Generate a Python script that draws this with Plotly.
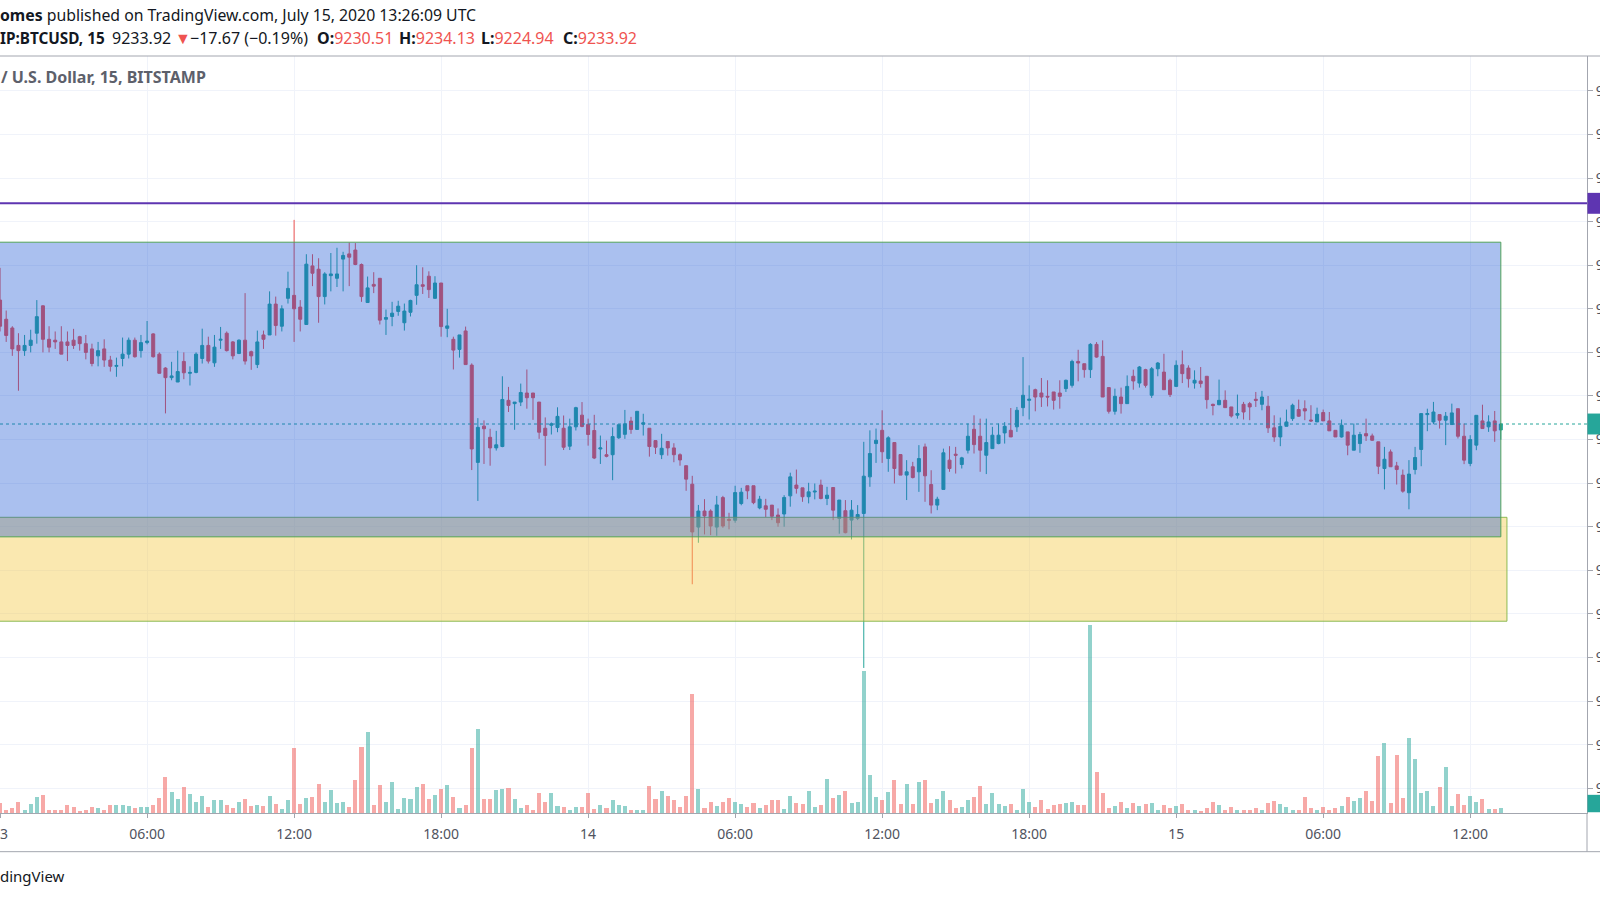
import plotly.graph_objects as go
import pandas as pd

# ---------------- data ----------------
start_time = "2020-07-13 00:00"
n_bars = 246
times = pd.date_range(start_time, periods=n_bars, freq="15min")

opens = [9305, 9294, 9289, 9279, 9276, 9279, 9286, 9301.7, 9282.5, 9282, 9281, 9281, 9282, 9284, 9280, 9277, 9273, 9277, 9270.6, 9267,
         9271.5, 9274, 9282, 9276, 9280.6, 9285.6, 9274, 9266, 9260.5, 9258, 9269.8, 9263, 9263.5, 9271.5, 9279, 9269, 9282, 9286, 9281, 9274.4,
         9282, 9275.4, 9268, 9285, 9285, 9302.7, 9290, 9306, 9307.7, 9301, 9291, 9324.6, 9322.7, 9307, 9319, 9317.5, 9328.5, 9331.5, 9333.7, 9325.4,
         9303.6, 9314, 9317.5, 9294, 9295.6, 9298.5, 9292, 9298, 9307.7, 9313.8, 9318.7, 9306, 9314.8, 9288.8, 9282.5, 9276.7, 9287.3, 9267.7, 9211.9, 9232.7,
         9226.3, 9220.2, 9221, 9247.5, 9245.6, 9246.5, 9251.7, 9251.7, 9246.5, 9231.5, 9233.2, 9231.9, 9231.5, 9221.2, 9232.3, 9239, 9233.7, 9230.2, 9219.6, 9216.3,
         9216.3, 9226, 9228, 9235.6, 9230.8, 9233.8, 9231.5, 9224.4, 9216.3, 9223.9, 9220.2, 9216.3, 9210, 9199.4, 9174.8, 9184, 9184, 9174.8, 9191.7, 9179.2,
         9178.7, 9188.3, 9198.5, 9198.5, 9185.8, 9187, 9187.4, 9181.7, 9182.3, 9192.7, 9198.9, 9197.3, 9192.2, 9194.9, 9198.9, 9191.2, 9197.5, 9179.8, 9184.2, 9178.8,
         9179.8, 9182.6, 9203.6, 9222.7, 9230.3, 9214.1, 9223.3, 9216.4, 9204.6, 9209.4, 9206.5, 9220.8, 9199.2, 9187.4, 9196.4, 9213.2, 9216.6, 9210.7, 9218.9, 9230.9,
         9226.9, 9216, 9219.8, 9222.7, 9228.8, 9230.3, 9232.3, 9243.3, 9247.5, 9253.6, 9251.7, 9249.8, 9252.3, 9251.7, 9254.2, 9256.1, 9269.8, 9268.5, 9265.1, 9279.6,
         9272.7, 9254.8, 9241.2, 9249.4, 9245.6, 9261.3, 9257.4, 9265.1, 9250.4, 9265.6, 9263.7, 9259, 9255.5, 9267.9, 9266, 9257.4, 9258.6, 9261.3, 9245.2, 9245,
         9247.5, 9243.7, 9239, 9245.2, 9245.6, 9248.1, 9245.2, 9244.1, 9231.7, 9226.5, 9232.6, 9237, 9242.2, 9242.7, 9236.2, 9235.1, 9240.5, 9235.7, 9230.3, 9226.5,
         9229.4, 9218.9, 9222.7, 9228.4, 9227.1, 9223.7, 9208.4, 9217.9, 9209.9, 9204.6, 9194.5, 9207.8, 9219.3, 9239.3, 9235.1, 9239.3, 9236.1, 9233.6, 9242.7, 9226.9,
         9211.3, 9221.8, 9235.7, 9232.3, 9235.7, 9230.51]
highs = [9323.5, 9299, 9290, 9286, 9285, 9288, 9305, 9302, 9290, 9287, 9290, 9287, 9288.5, 9284.5, 9285, 9280, 9281, 9282.5, 9273, 9272,
         9283.5, 9283.5, 9283.5, 9285, 9293, 9286, 9275, 9266.5, 9269.6, 9276, 9275, 9267, 9275, 9288.6, 9284, 9285, 9289.6, 9287, 9281.5, 9282.5,
         9309, 9276, 9287.5, 9287.5, 9310, 9307, 9302, 9321.3, 9351, 9305, 9331.3, 9331.3, 9329, 9321, 9332, 9335, 9332.7, 9338, 9337.7, 9326,
         9318.5, 9321, 9317.5, 9299.6, 9304, 9304.6, 9303, 9305.2, 9325, 9323.8, 9321.5, 9318.7, 9314.8, 9300, 9284, 9285, 9289.8, 9268.7, 9237.3, 9236,
         9231.2, 9230, 9261.3, 9255.2, 9246.5, 9257.1, 9265.2, 9251.7, 9246.5, 9237.7, 9234.8, 9243.5, 9238.8, 9237, 9243.8, 9246.5, 9237, 9239.2, 9227.3, 9224.4,
         9232, 9233.5, 9242, 9238, 9241.2, 9239.8, 9231.5, 9224.4, 9228.3, 9223.9, 9222.9, 9217.1, 9210, 9204.2, 9187.5, 9190.8, 9185, 9192.7, 9192.7, 9183,
         9198.5, 9197.3, 9198.5, 9198.5, 9192.7, 9191, 9187.4, 9185.5, 9193.1, 9206, 9207.8, 9197.3, 9200.2, 9199.8, 9202, 9197.9, 9197.5, 9190.3, 9190.3, 9190.3,
         9187.4, 9223.7, 9230.3, 9231.3, 9241.8, 9226.9, 9223.3, 9216.4, 9213.2, 9212.2, 9221.8, 9222.7, 9207.4, 9192.2, 9219.8, 9221.2, 9220.8, 9215.1, 9234.2, 9238.9,
         9237, 9237, 9232.3, 9234.2, 9235, 9243.1, 9243.7, 9272.3, 9256.1, 9254.2, 9260.3, 9259, 9252.3, 9259, 9259.4, 9270.8, 9276.5, 9268.5, 9280.3, 9280.9,
         9281.9, 9254.8, 9254.2, 9254.8, 9261.8, 9265.1, 9267.2, 9265.6, 9266.6, 9269.5, 9274.2, 9259.9, 9270.4, 9276.1, 9267.6, 9264.7, 9266.6, 9261.3, 9245.6, 9259.4,
         9253.2, 9243.7, 9250.8, 9246.6, 9246.6, 9252.3, 9252.9, 9250, 9238.9, 9237.6, 9242.2, 9245.6, 9247.9, 9247.5, 9244.7, 9243.3, 9242.2, 9240.8, 9230.3, 9236.5,
         9229.4, 9234.2, 9229.4, 9237, 9228.4, 9223.7, 9220.8, 9219.3, 9212.2, 9207.8, 9213.2, 9220.8, 9239.9, 9242.7, 9246.6, 9239.3, 9240.8, 9245.6, 9242.7, 9234.2,
         9227.5, 9238.9, 9245, 9238.9, 9241.4, 9234.13]
lows = [9287, 9281, 9273, 9253, 9273, 9275, 9280, 9275, 9275, 9277, 9274, 9270, 9277, 9276, 9271, 9267, 9267, 9266.7, 9264, 9261,
        9267, 9271.5, 9272, 9272, 9279.6, 9272, 9263, 9240, 9259, 9258, 9259.6, 9256, 9263, 9268.6, 9268.6, 9266.7, 9277, 9275.5, 9271, 9274,
        9268, 9265, 9266, 9277, 9285, 9284.6, 9287, 9303, 9281, 9287, 9291, 9313, 9292, 9302.5, 9310, 9312.5, 9310, 9313, 9325, 9304,
        9303.6, 9309, 9291, 9285, 9290, 9296, 9287.5, 9295.6, 9302.3, 9308.5, 9306.2, 9305.8, 9284, 9283.7, 9265.2, 9272, 9268, 9207.5, 9189.8, 9211,
        9210, 9218.7, 9220.6, 9240.8, 9230.6, 9244.2, 9242.7, 9236.3, 9225.4, 9210, 9227.9, 9229.2, 9219, 9219, 9230.2, 9232, 9221.5, 9213.8, 9211, 9214.8,
        9201.7, 9225.4, 9225.4, 9228.3, 9230.8, 9227.3, 9215.2, 9216.7, 9213.8, 9215.8, 9212, 9210, 9195.6, 9142, 9165.8, 9170.6, 9170.2, 9169.8, 9174.4, 9173.5,
        9177.3, 9187.3, 9190.8, 9187.9, 9185, 9180.5, 9178.8, 9175, 9175, 9186.5, 9194, 9189.3, 9188.4, 9190.7, 9190.7, 9187.4, 9178.8, 9171, 9171.2, 9167.7,
        9178.8, 9094, 9197.9, 9211.6, 9211.6, 9206.5, 9199.8, 9204.6, 9190.3, 9202.7, 9195, 9189.3, 9182.6, 9184.5, 9196.4, 9206.5, 9205.5, 9208.4, 9217, 9217,
        9206.5, 9205.2, 9219.8, 9222.3, 9222.7, 9226.5, 9229.4, 9238.4, 9236.5, 9241.2, 9243.7, 9244, 9242.2, 9242.7, 9252.3, 9254.8, 9258.4, 9260.5, 9260.3, 9271.9,
        9249.4, 9239.9, 9239.3, 9239.9, 9245.6, 9253.6, 9254.8, 9254.8, 9248.9, 9261.3, 9253.6, 9249.4, 9255.1, 9257.4, 9254.8, 9254.2, 9254.8, 9242.7, 9238.9, 9244.7,
        9243.3, 9237.6, 9237, 9236.5, 9236.1, 9243.7, 9241.8, 9228.8, 9223.7, 9221.2, 9232.6, 9235.7, 9238, 9236.1, 9235.1, 9235.1, 9235.7, 9230, 9226.5, 9226.1,
        9216, 9218.9, 9217.4, 9224.2, 9224.2, 9205.2, 9196.4, 9209.4, 9199.2, 9194.5, 9185, 9205, 9209.7, 9229.8, 9233.8, 9231.3, 9221.8, 9233.6, 9225.6, 9210.9,
        9209.7, 9218.9, 9231.3, 9229.4, 9223.7, 9224.94]
closes = [9290, 9284.7, 9277, 9276, 9279, 9282, 9295.5, 9282.5, 9278, 9281, 9274, 9279, 9279, 9280, 9275, 9268.6, 9276, 9270.6, 9267, 9267.5,
          9274, 9282, 9272.5, 9280.6, 9281.5, 9272.5, 9263, 9260.5, 9261.5, 9264, 9263.3, 9263.5, 9274, 9279, 9270, 9278, 9282.5, 9276, 9273, 9282,
          9270, 9273, 9281, 9282.5, 9302.7, 9290.4, 9300, 9311.7, 9300, 9294, 9325.6, 9320.4, 9307, 9320, 9320, 9320, 9330.6, 9329.6, 9325.4, 9307,
          9312, 9313, 9293.5, 9295, 9297.5, 9301.5, 9298.7, 9304.8, 9313.8, 9312.9, 9311, 9314.8, 9289.8, 9290.2, 9276.3, 9285, 9268, 9219.6, 9232, 9231.2,
          9220.2, 9222, 9248, 9244.6, 9246.5, 9252, 9249, 9249, 9229.2, 9227.3, 9234, 9238.3, 9220.6, 9232.3, 9243.3, 9232.5, 9227.9, 9214.4, 9220.2, 9215.4,
          9226.7, 9233.5, 9234, 9230.8, 9241.2, 9234.6, 9221, 9220.6, 9220, 9220.2, 9216.3, 9213.3, 9202.3, 9172, 9184, 9181.2, 9175.4, 9187.5, 9175.4, 9178.7,
          9194.6, 9194.8, 9195.6, 9188.8, 9190.8, 9185, 9181, 9177.3, 9191.8, 9203.6, 9197, 9192.2, 9195, 9195.4, 9191.2, 9193.1, 9184.5, 9190.3, 9171.6, 9184.5,
          9182, 9204, 9217, 9224.6, 9218, 9226, 9208.4, 9204.6, 9206.5, 9203.2, 9214.1, 9204.2, 9187.4, 9190.8, 9217.4, 9208.4, 9216, 9214.5, 9226.9, 9222.1,
          9218.9, 9223.3, 9227.5, 9227.5, 9232.6, 9226.5, 9241.8, 9250.4, 9248.1, 9249.4, 9249.4, 9249.4, 9247.5, 9249.8, 9259, 9269.8, 9268.9, 9265.1, 9279.6, 9272.3,
          9249.4, 9241.2, 9249.8, 9245.6, 9255.5, 9258.6, 9266.6, 9256.1, 9265.6, 9268.9, 9253.6, 9250.8, 9267.6, 9262.8, 9259.9, 9259, 9257.1, 9247.9, 9244.5, 9247.5,
          9243.3, 9238.5, 9239.9, 9240.8, 9243.7, 9247.5, 9249.4, 9231.7, 9226.5, 9232.6, 9235.1, 9244.7, 9238.4, 9241.4, 9235.7, 9239.5, 9235.7, 9230, 9226.5, 9233.2,
          9221.8, 9227.5, 9227.9, 9227.1, 9224.6, 9209.7, 9213.7, 9209.4, 9207.8, 9195.4, 9205.2, 9214.7, 9239.9, 9239.9, 9240.8, 9236.1, 9238.4, 9240.3, 9226.9, 9213.2,
          9225, 9238.9, 9231.3, 9235.1, 9230, 9233.92]
volumes = [30, 10, 14, 32, 8, 26, 47, 54, 10, 8, 8, 24, 19, 6, 10, 18, 14, 9, 24, 24,
           24, 20, 14, 18, 18, 25, 44, 109, 62, 42, 77, 57, 34, 50, 17, 38, 38, 24, 16, 32,
           42, 22, 24, 20, 50, 28, 12, 39, 195, 26, 44, 48, 87, 34, 69, 30, 32, 19, 100, 199,
           242, 24, 84, 32, 92, 12, 46, 42, 77, 88, 42, 53, 73, 84, 48, 14, 25, 196, 253, 42,
           43, 69, 73, 75, 42, 16, 25, 10, 60, 34, 59, 20, 18, 10, 18, 18, 60, 12, 24, 14,
           39, 23, 22, 10, 8, 8, 80, 42, 67, 51, 40, 18, 51, 358, 71, 14, 34, 22, 32, 44,
           32, 28, 18, 30, 14, 24, 40, 38, 13, 52, 30, 28, 67, 18, 23, 103, 46, 55, 65, 30,
           34, 425, 114, 49, 38, 63, 99, 26, 88, 28, 92, 99, 30, 42, 65, 38, 14, 18, 40, 49,
           81, 28, 59, 26, 20, 28, 10, 71, 34, 18, 38, 12, 24, 26, 30, 34, 24, 24, 565, 124,
           61, 15, 20, 34, 16, 30, 20, 28, 30, 8, 24, 14, 20, 28, 8, 8, 6, 14, 34, 24,
           8, 18, 10, 10, 10, 16, 8, 30, 36, 26, 18, 10, 10, 48, 14, 10, 18, 10, 14, 22,
           48, 36, 44, 67, 36, 172, 210, 30, 174, 44, 224, 162, 59, 67, 20, 77, 138, 22, 57, 24,
           51, 32, 42, 12, 12, 16]

tick_times = ["2020-07-13 00:00", "2020-07-13 06:00", "2020-07-13 12:00", "2020-07-13 18:00",
              "2020-07-14 00:00", "2020-07-14 06:00", "2020-07-14 12:00", "2020-07-14 18:00",
              "2020-07-15 00:00", "2020-07-15 06:00", "2020-07-15 12:00"]
tick_labels = ["13", "06:00", "12:00", "18:00", "14", "06:00", "12:00", "18:00", "15", "06:00", "12:00"]
price_ticks = [9025 + 25 * k for k in range(17)]

last_price = 9233.92
resistance_line = 9360.5
blue_zone = (9169.2, 9338.2, "2020-07-15 13:15")
yellow_zone = (9120.8, 9180.4, "2020-07-15 13:30")

# ---------------- styling ----------------
UP = "#26a69a"
DOWN = "#ef5350"
GRID = "#f0f3fa"
AXIS = "#a3a6af"
FONT = "Noto Sans"
PLOT_W = 1587.0

vol_colors = ["rgba(38,166,154,0.5)" if c >= o else "rgba(239,83,80,0.5)"
              for o, c in zip(opens, closes)]

fig = go.Figure()
fig.add_trace(go.Bar(x=times, y=volumes, yaxis="y2", marker_color=vol_colors,
                     marker_line_width=0, width=0.66 * 900000, showlegend=False,
                     hoverinfo="skip"))
fig.add_trace(go.Candlestick(x=times, open=opens, high=highs, low=lows, close=closes,
                             increasing=dict(line=dict(color=UP, width=1), fillcolor=UP),
                             decreasing=dict(line=dict(color=DOWN, width=1), fillcolor=DOWN),
                             showlegend=False, hoverinfo="skip"))

shapes = [
    dict(type="line", xref="paper", x0=0, x1=1, yref="y", y0=last_price, y1=last_price,
         line=dict(color=UP, width=1, dash="dot")),
    dict(type="rect", xref="x", x0="2020-07-12 18:00", x1=yellow_zone[2], yref="y",
         y0=yellow_zone[0], y1=yellow_zone[1], fillcolor="rgba(245,205,80,0.45)",
         line=dict(color="rgba(130,180,70,0.9)", width=1)),
    dict(type="rect", xref="x", x0="2020-07-12 18:00", x1=blue_zone[2], yref="y",
         y0=blue_zone[0], y1=blue_zone[1], fillcolor="rgba(20,80,210,0.36)",
         line=dict(color="rgba(76,160,80,0.95)", width=1)),
    dict(type="line", xref="paper", x0=0, x1=1, yref="y", y0=resistance_line, y1=resistance_line,
         line=dict(color="#5e35b1", width=2)),
    # pane frame lines
    dict(type="line", xref="paper", x0=0, x1=1.01, yref="paper", y0=1, y1=1,
         line=dict(color=AXIS, width=1)),
    dict(type="line", xref="paper", x0=0, x1=1.01, yref="paper", y0=-0.0511, y1=-0.0511,
         line=dict(color=AXIS, width=1)),
    dict(type="line", xref="paper", x0=1, x1=1, yref="paper", y0=-0.0511, y1=0,
         line=dict(color=AXIS, width=1)),
    # price-axis label boxes (cut off at the right border)
    dict(type="rect", xref="paper", x0=1.0003, x1=1.01, yref="y",
         y0=resistance_line - 6, y1=resistance_line + 6, fillcolor="#5e35b1", line_width=0),
    dict(type="rect", xref="paper", x0=1.0003, x1=1.01, yref="y",
         y0=last_price - 6, y1=last_price + 6, fillcolor=UP, line_width=0),
    dict(type="rect", xref="paper", x0=1.0003, x1=1.01, yref="paper",
         y0=0.001, y1=0.024, fillcolor=UP, line_width=0),
]


def red(s):
    return "<span style='color:%s'>%s</span>" % (DOWN, s)


# header line 2, split in groups placed at their pixel positions
header2_parts = [
    (0, "<b>IP:BTCUSD, 15</b>", 15.3),
    (112, "9233.92", 16),
    (175, red("▼"), 16),
    (190, "−17.67 (−0.19%)", 16),
    (317, "<b>O:</b>" + red("9230.51"), 16),
    (399, "<b>H:</b>" + red("9234.13"), 16),
    (481, "<b>L:</b>" + red("9224.94"), 16),
    (563, "<b>C:</b>" + red("9233.92"), 16),
]

annotations = [
    dict(xref="paper", yref="paper", x=0, y=1.0539, xanchor="left", yanchor="middle", xshift=-2,
         text="<b>omes</b> published on TradingView.com, July 15, 2020 13:26:09 UTC",
         showarrow=False, font=dict(family=FONT, size=15.8, color="#131722")),
    dict(xref="paper", yref="paper", x=0, y=0.9717, xanchor="left", yanchor="middle", xshift=-1,
         text="<b>/ U.S. Dollar, 15, BITSTAMP</b>", showarrow=False,
         font=dict(family=FONT, size=16, color="#5d606b")),
    dict(xref="paper", yref="paper", x=0, y=-0.0828, xanchor="left", yanchor="middle", xshift=-2,
         text="dingView", showarrow=False, font=dict(family=FONT, size=15, color="#131722")),
]
for px, txt, fs in header2_parts:
    annotations.append(dict(xref="paper", yref="paper", x=px / PLOT_W, y=1.0239,
                            xanchor="left", yanchor="middle", xshift=-2, text=txt,
                            showarrow=False, font=dict(family=FONT, size=fs, color="#131722")))

fig.update_layout(
    width=1600, height=900,
    margin=dict(l=0, r=13, t=56, b=87),
    paper_bgcolor="white", plot_bgcolor="white",
    shapes=shapes, annotations=annotations,
    boxgap=0.3, bargap=0,
    font=dict(family=FONT),
    xaxis=dict(type="date", range=["2020-07-12 23:59:50", "2020-07-15 16:46:00"],
               rangeslider=dict(visible=False), tickvals=tick_times, ticktext=tick_labels,
               showgrid=True, gridcolor=GRID, gridwidth=1, showline=True, linecolor=AXIS,
               ticks="outside", ticklen=4, tickcolor=AXIS, ticklabelstandoff=4,
               ticklabeloverflow="allow",
               tickfont=dict(family=FONT, size=14, color="#50535e"), automargin=False,
               zeroline=False, fixedrange=True),
    yaxis=dict(side="right", range=[9010.8, 9445.0], tickvals=price_ticks,
               ticktext=["%.2f" % v for v in price_ticks], showgrid=True, gridcolor=GRID,
               showline=True, linecolor=AXIS, ticks="outside", ticklen=5, tickcolor=AXIS,
               ticklabeloverflow="allow",
               tickfont=dict(family=FONT, size=14, color="#50535e"), automargin=False,
               zeroline=False),
    yaxis2=dict(overlaying="y", range=[0, 2271.6], visible=False, showgrid=False),
)

fig.write_html("out.html")
